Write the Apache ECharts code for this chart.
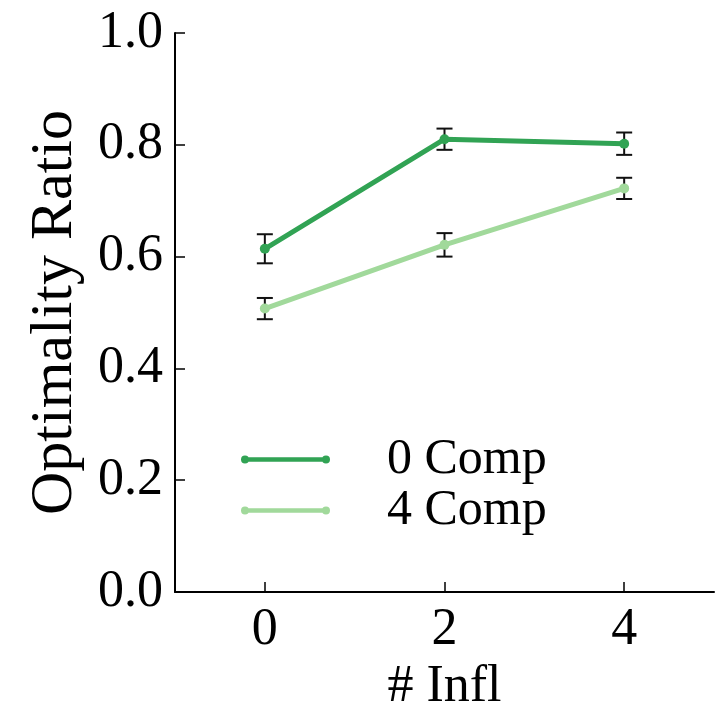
<!DOCTYPE html>
<html><head><meta charset="utf-8">
<script src="https://cdn.jsdelivr.net/npm/echarts@6/dist/echarts.min.js"></script>
<style>html,body{margin:0;padding:0;background:#fff}#c{width:724px;height:719px}</style>
</head><body><div id="c"></div>
<script>
var xValues = [0, 2, 4];
var xTicks = [0, 2, 4];
var yTicks = [0, 0.2, 0.4, 0.6, 0.8, 1.0];
var seriesNames = ['0 Comp', '4 Comp'];
var comp0Mean = [0.614, 0.810, 0.802];
var comp0Err = [0.026, 0.019, 0.020];
var comp4Mean = [0.507, 0.621, 0.722];
var comp4Err = [0.019, 0.021, 0.019];
var colors = ['#31a354', '#a1d99b'];

var FONT = '"Liberation Serif", "DejaVu Serif", serif';
function pts(m) { return xValues.map(function (x, i) { return [x, m[i]]; }); }
function errs(m, e) { return xValues.map(function (x, i) { return [x, m[i] - e[i], m[i] + e[i]]; }); }

function errRender(params, api) {
  var x = api.value(0), lo = api.value(1), hi = api.value(2);
  var p1 = api.coord([x, lo]), p2 = api.coord([x, hi]);
  var w = 8;
  var st = { stroke: '#111', lineWidth: 2 };
  return { type: 'group', children: [
    { type: 'line', shape: { x1: p1[0], y1: p1[1], x2: p2[0], y2: p2[1] }, style: st },
    { type: 'line', shape: { x1: p1[0] - w, y1: p1[1], x2: p1[0] + w, y2: p1[1] }, style: st },
    { type: 'line', shape: { x1: p2[0] - w, y1: p2[1], x2: p2[0] + w, y2: p2[1] }, style: st }
  ] };
}

var legendIcon = 'path://M4,1.7 L85,1.7 L85,6.3 L4,6.3 Z M0,4 a4,4 0 1,1 8,0 a4,4 0 1,1 -8,0 Z M81,4 a4,4 0 1,1 8,0 a4,4 0 1,1 -8,0 Z';

var chart = echarts.init(document.getElementById('c'), null, { renderer: 'canvas' });
chart.setOption({
  animation: false,
  backgroundColor: '#fff',
  grid: { left: 175, top: 33, right: 10, bottom: 127, containLabel: false },
  legend: {
    orient: 'vertical', left: 236, top: 429,
    itemWidth: 89, itemHeight: 8, itemGap: 0,
    icon: legendIcon,
    data: seriesNames,
    textStyle: { fontFamily: FONT, fontSize: 50, color: '#000', lineHeight: 51, padding: [0, 0, 0, 52] }
  },
  xAxis: {
    type: 'value', min: -1, max: 5,
    name: '# Infl', nameLocation: 'middle', nameGap: 68,
    nameTextStyle: { fontFamily: FONT, fontSize: 52, color: '#000' },
    axisLine: { onZero: false, lineStyle: { color: '#000', width: 2 } },
    axisTick: { inside: true, length: 10, lineStyle: { color: '#000', width: 1.5 }, customValues: xTicks },
    axisLabel: { customValues: xTicks, margin: 12, fontFamily: FONT, fontSize: 52, color: '#000' },
    splitLine: { show: false }
  },
  yAxis: {
    type: 'value', min: 0, max: 1, interval: 0.2,
    name: 'Optimality Ratio', nameLocation: 'middle', nameGap: 90,
    nameTextStyle: { fontFamily: FONT, fontSize: 60, color: '#000' },
    axisLine: { show: true, onZero: false, lineStyle: { color: '#000', width: 2 } },
    axisTick: { show: true, inside: true, length: 10, lineStyle: { color: '#000', width: 1.5 } },
    axisLabel: { margin: 12, fontFamily: FONT, fontSize: 52, color: '#000',
      formatter: function (v) { return v.toFixed(1); } },
    splitLine: { show: false }
  },
  series: [
    { name: seriesNames[0], type: 'line', data: pts(comp0Mean), color: colors[0],
      lineStyle: { width: 5, color: colors[0] }, symbol: 'circle', symbolSize: 10,
      itemStyle: { color: colors[0] }, z: 3 },
    { name: seriesNames[1], type: 'line', data: pts(comp4Mean), color: colors[1],
      lineStyle: { width: 5, color: colors[1] }, symbol: 'circle', symbolSize: 10,
      itemStyle: { color: colors[1] }, z: 3 },
    { type: 'custom', renderItem: errRender, data: errs(comp0Mean, comp0Err), z: 2, encode: { x: 0, y: [1, 2] } },
    { type: 'custom', renderItem: errRender, data: errs(comp4Mean, comp4Err), z: 2, encode: { x: 0, y: [1, 2] } }
  ]
});
</script></body></html>
